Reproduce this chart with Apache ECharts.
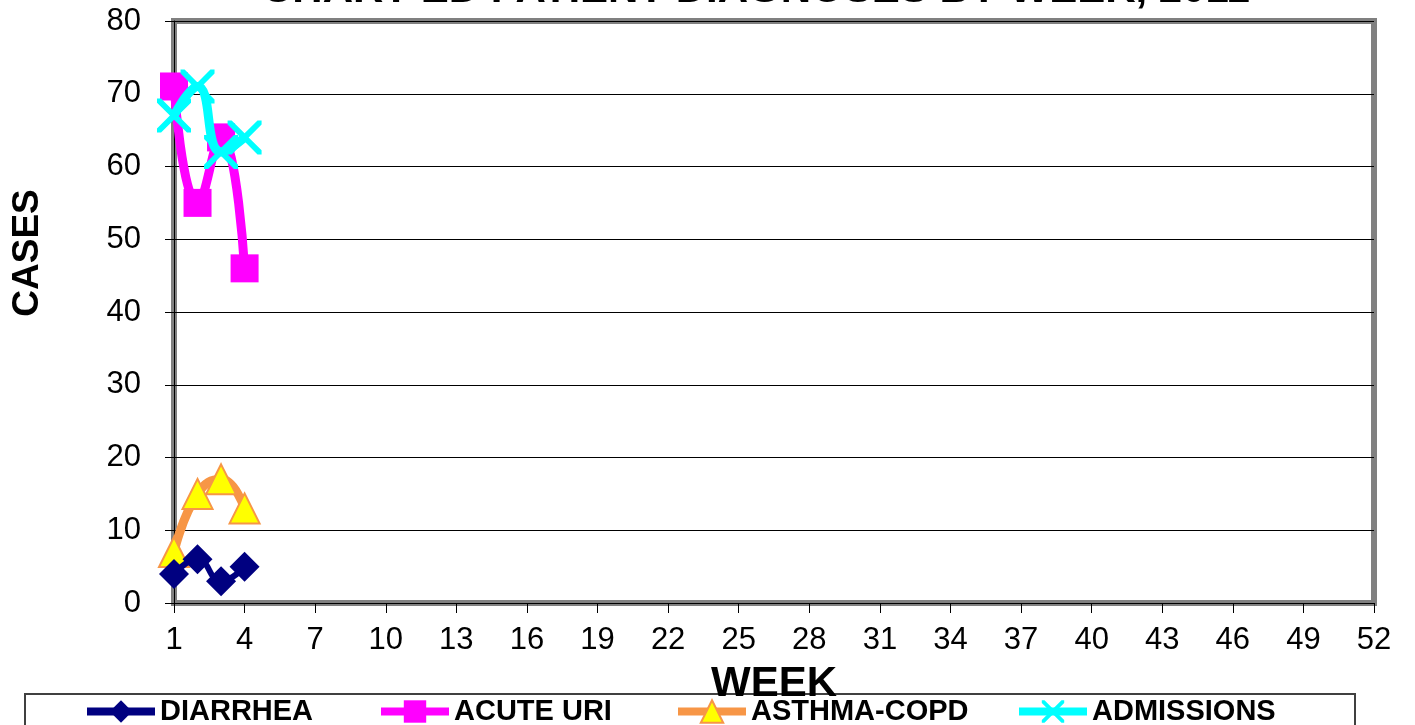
<!DOCTYPE html>
<html>
<head>
<meta charset="utf-8">
<script src="https://cdn.jsdelivr.net/npm/echarts@6/dist/echarts.min.js"></script>
<style>
html,body{margin:0;padding:0;background:#fff;}
#chart{width:1415px;height:725px;}
</style>
</head>
<body>
<div id="chart"></div>
<script>
var weeks = [];
for (var w = 1; w <= 52; w++) weeks.push(String(w));

var titleText = 'CHART ED PATIENT DIAGNOSES BY WEEK, 2011';
var yTitle = 'CASES';
var xTitle = 'WEEK';
var seriesNames = ['DIARRHEA', 'ACUTE URI', 'ASTHMA-COPD', 'ADMISSIONS'];
var diarrhea = [4, 6, 3, 5];
var acuteUri = [71, 55, 64, 46];
var asthmaCopd = [7, 15, 17, 13];
var admissions = [67, 71, 62, 64];

var xPath = 'path://M0,0L1.2,0L5,3.8L8.8,0L10,0L10,1.2L6.2,5L10,8.8L10,10L8.8,10L5,6.2L1.2,10L0,10L0,8.8L3.8,5L0,1.2Z';

var chart = echarts.init(document.getElementById('chart'));
var legendText = {fontFamily: 'Liberation Sans', fontWeight: 'bold', fontSize: 29, color: '#000'};
function mkLegend(name, left) {
  return {
    data: [name], left: left, top: 697, itemWidth: 68, itemHeight: 28, itemGap: 0,
    padding: 0, textStyle: legendText, selectedMode: false,
    lineStyle: {width: 8}
  };
}
chart.setOption({
  animation: false,
  backgroundColor: '#fff',
  graphic: [
    {type: 'text', left: 262, top: -31, z: 10,
     style: {text: titleText, font: 'bold 42px "Liberation Sans"', fill: '#000'}},
    {type: 'text', x: 28, y: 253, rotation: Math.PI / 2, z: 10,
     style: {text: yTitle, font: 'bold 37px "Liberation Sans"', fill: '#000', align: 'center', verticalAlign: 'middle'}},
    {type: 'rect', shape: {x: 25, y: 694, width: 1330, height: 40},
     style: {fill: 'none', stroke: '#404040', lineWidth: 2}, z: 0}
  ],
  legend: [
    mkLegend(seriesNames[0], 83),
    mkLegend(seriesNames[1], 377),
    mkLegend(seriesNames[2], 674),
    mkLegend(seriesNames[3], 1015)
  ],
  grid: {left: 174, right: 41, top: 21, bottom: 122, show: true, outerBoundsMode: 'none', containLabel: false,
         borderColor: '#808080', borderWidth: 6, backgroundColor: '#fff'},
  xAxis: {
    type: 'category', data: weeks, boundaryGap: false,
    name: xTitle, nameLocation: 'middle', nameGap: 60,
    nameTextStyle: {fontFamily: 'Liberation Sans', fontWeight: 'bold', fontSize: 42, color: '#000'},
    axisLine: {show: true, lineStyle: {color: '#000', width: 1}},
    axisTick: {show: true, interval: 2, length: 10, inside: false, lineStyle: {color: '#000'}},
    axisLabel: {interval: 2, margin: 22, fontFamily: 'Liberation Sans', fontSize: 31, color: '#000'},
    splitLine: {show: false}
  },
  yAxis: {
    type: 'value', min: 0, max: 80, interval: 10,
    axisLine: {show: true, lineStyle: {color: '#000', width: 1}},
    axisTick: {show: true, length: 9, lineStyle: {color: '#000'}},
    axisLabel: {margin: 33, fontFamily: 'Liberation Sans', fontSize: 31, color: '#000'},
    splitLine: {show: true, lineStyle: {color: '#000', width: 1}}
  },
  series: [
    {name: seriesNames[0], type: 'line', data: diarrhea, smooth: 0.5,
     symbol: 'diamond', symbolSize: 30, showAllSymbol: true,
     itemStyle: {color: '#000080'}, lineStyle: {color: '#000080', width: 6}, z: 4},
    {name: seriesNames[1], type: 'line', data: acuteUri, smooth: 0.5,
     symbol: 'rect', symbolSize: 28, showAllSymbol: true,
     itemStyle: {color: '#FF00FF'}, lineStyle: {color: '#FF00FF', width: 9}, z: 3},
    {name: seriesNames[2], type: 'line', data: asthmaCopd, smooth: 0.5,
     symbol: 'triangle', symbolSize: 30, showAllSymbol: true,
     itemStyle: {color: '#FFFF00', borderColor: '#F79646', borderWidth: 2},
     lineStyle: {color: '#F79646', width: 9}, z: 3},
    {name: seriesNames[3], type: 'line', data: admissions, smooth: 0.5,
     symbol: xPath, symbolSize: 34, showAllSymbol: true,
     itemStyle: {color: '#00FFFF'}, lineStyle: {color: '#00FFFF', width: 9}, z: 5}
  ]
});
</script>
</body>
</html>
